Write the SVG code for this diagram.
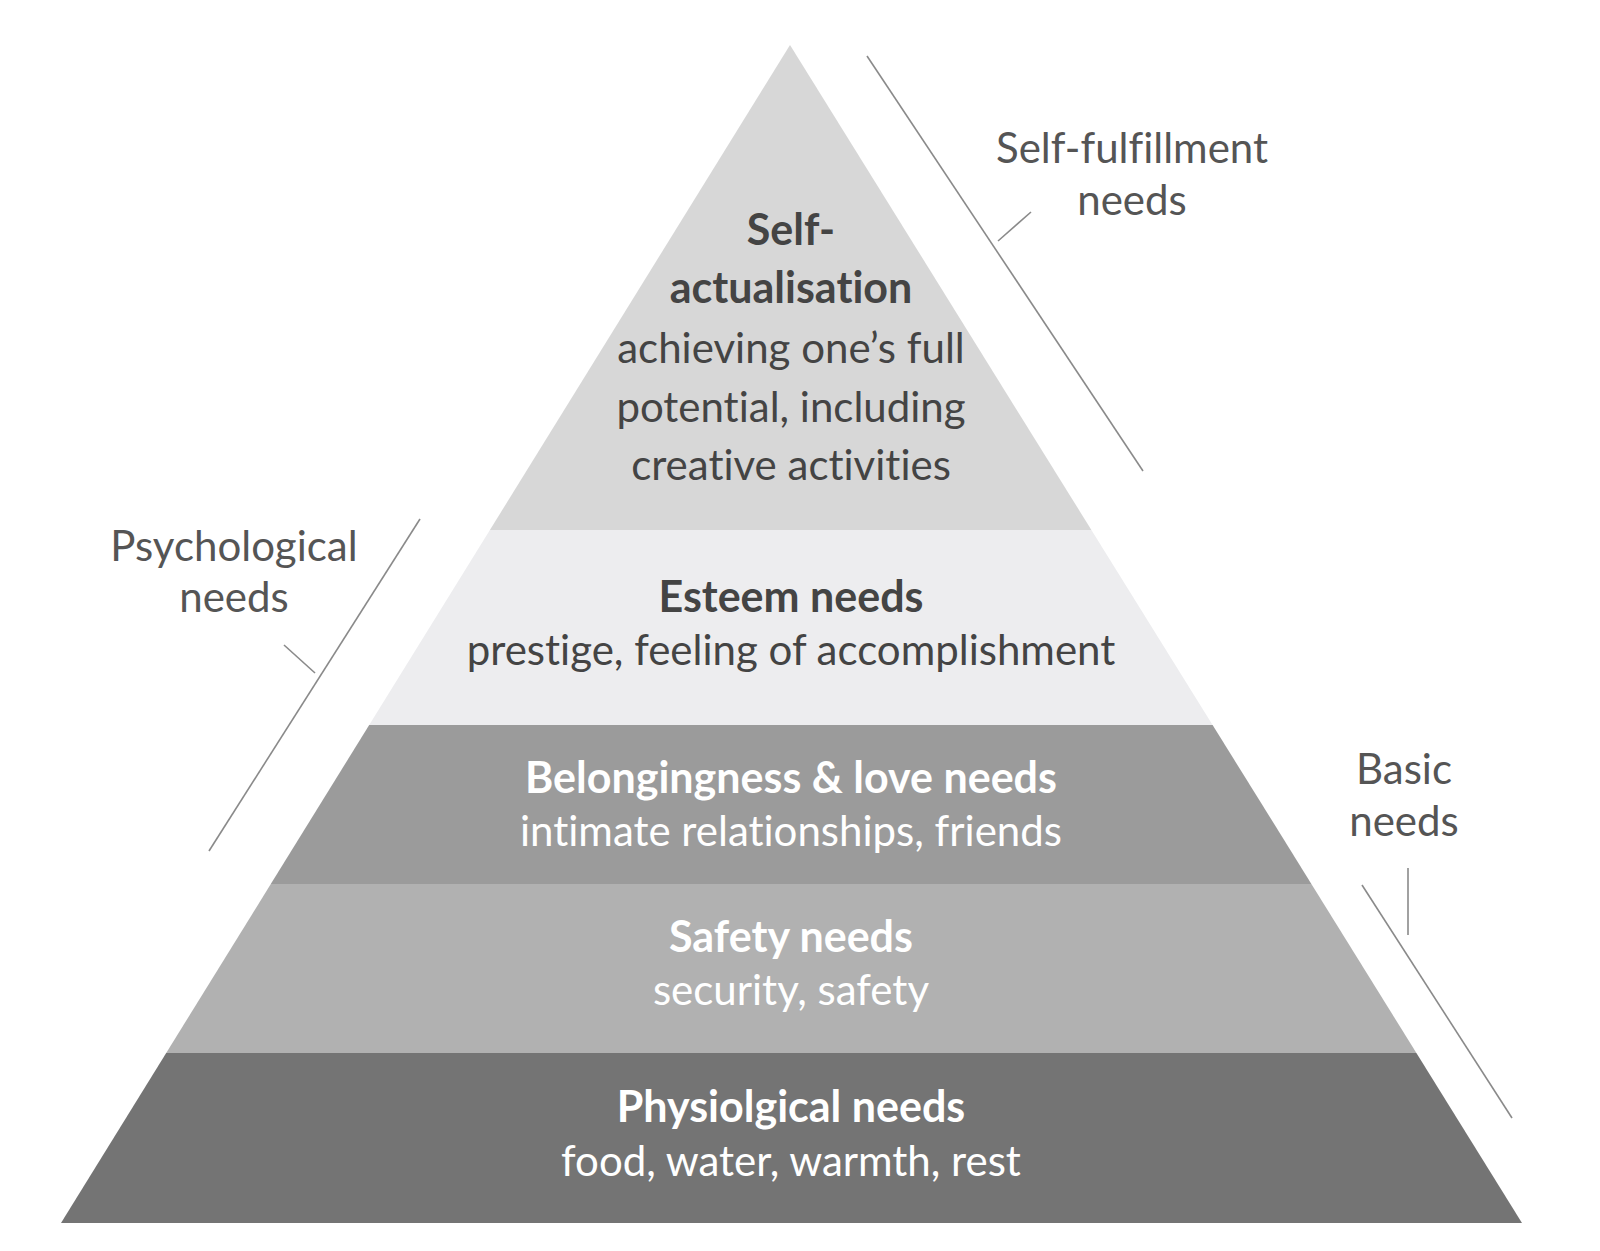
<svg xmlns="http://www.w3.org/2000/svg" width="1600" height="1251" viewBox="0 0 1600 1251">
<style>
text{font-variant-ligatures:none;font-feature-settings:"liga" 0,"clig" 0}
.lbl{font-family:Lato,"Liberation Sans",sans-serif;font-size:42px;fill:#555;text-anchor:middle}
.t{font-family:Lato,"Liberation Sans",sans-serif;font-size:42px;text-anchor:middle}
.b{font-weight:bold;font-size:43px}
.dk{fill:#444}
.wh{fill:#fff}
.ln{stroke:#8a8a8a;stroke-width:1.6;fill:none}
</style>
<rect width="1600" height="1251" fill="#fff"/>
<g id="self-actualisation">
<polygon points="790,45 489.9,530 1091.4,530" fill="#d7d7d7"/>
<text class="t b dk" x="791" y="245">Self-</text>
<text class="t b dk" x="791" y="303">actualisation</text>
<text class="t dk" x="791" y="363">achieving one’s full</text>
<text class="t dk" x="791" y="422">potential, including</text>
<text class="t dk" x="791" y="480">creative activities</text>
</g>
<g id="esteem">
<polygon points="489.9,530 1091.4,530 1212.6,725 369.2,725" fill="#ededef"/>
<text class="t b dk" x="791" y="612">Esteem needs</text>
<text class="t dk" x="791" y="665">prestige, feeling of accomplishment</text>
</g>
<g id="belongingness">
<polygon points="369.2,725 1212.6,725 1311.4,884 270.8,884" fill="#9b9b9b"/>
<text class="t b wh" x="791" y="793">Belongingness &amp; love needs</text>
<text class="t wh" x="791" y="846">intimate relationships, friends</text>
</g>
<g id="safety">
<polygon points="270.8,884 1311.4,884 1416.4,1053 166.2,1053" fill="#b1b1b1"/>
<text class="t b wh" x="791" y="952">Safety needs</text>
<text class="t wh" x="791" y="1005">security, safety</text>
</g>
<g id="physiological">
<polygon points="166.2,1053 1416.4,1053 1522,1223 61,1223" fill="#747474"/>
<text class="t b wh" x="791" y="1122">Physiolgical needs</text>
<text class="t wh" x="791" y="1176">food, water, warmth, rest</text>
</g>
<g id="connectors">
<line class="ln" x1="867" y1="56" x2="1143" y2="471"/>
<line class="ln" x1="998" y1="241" x2="1031" y2="212"/>
<line class="ln" x1="420" y1="519" x2="209" y2="851"/>
<line class="ln" x1="284" y1="645" x2="315" y2="673"/>
<line class="ln" x1="1408" y1="868" x2="1408" y2="935"/>
<line class="ln" x1="1362" y1="885" x2="1512" y2="1118"/>
</g>
<g id="label-self-fulfillment">
<text class="lbl" x="1132" y="163">Self-fulfillment</text>
<text class="lbl" x="1132" y="215">needs</text>
</g>
<g id="label-psychological">
<text class="lbl" x="234" y="561">Psychological</text>
<text class="lbl" x="234" y="612">needs</text>
</g>
<g id="label-basic">
<text class="lbl" x="1404" y="784">Basic</text>
<text class="lbl" x="1404" y="836">needs</text>
</g>
</svg>
